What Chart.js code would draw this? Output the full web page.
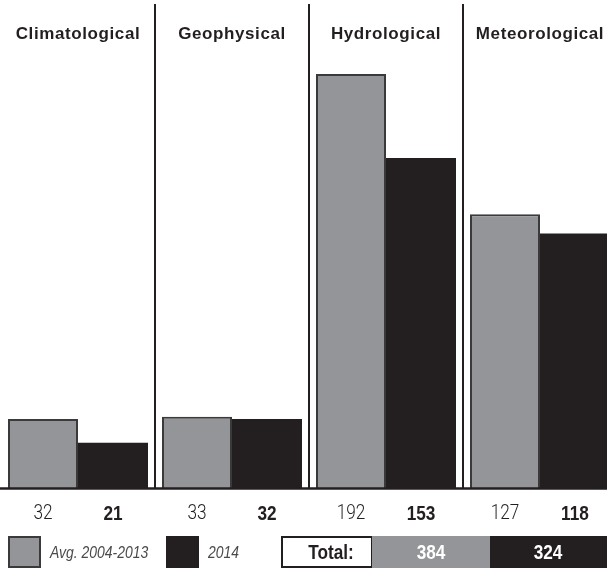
<!DOCTYPE html>
<html>
<head>
<meta charset="utf-8">
<script src="https://cdn.jsdelivr.net/npm/chart.js@4/dist/chart.umd.min.js"></script>
<style>
  html, body { margin: 0; padding: 0; background: #fff; overflow: hidden; }
  #wrap { width: 620px; height: 571px; }
</style>
</head>
<body>
<div id="wrap"><canvas id="c" width="620" height="571"></canvas></div>
<script>
// --- data ---
const categories = ["Climatological", "Geophysical", "Hydrological", "Meteorological"];
const seriesLabels = ["Avg. 2004-2013", "2014"];
const avgValues = [32, 33, 192, 127];
const values2014 = [21, 32, 153, 118];

const GREY = "#939598";
const BLACK = "#231f20";
const SANS = "'Liberation Sans', Arial, sans-serif";
const LIGHT = "Roboto, 'Liberation Sans', Arial, sans-serif";
const SQUEEZE = 0.82; // the original uses a condensed face

const sum = (arr) => arr.reduce((a, b) => a + b, 0);

// fill text squeezed horizontally around its anchor
function fillNarrow(ctx, text, x, y, align) {
  ctx.save();
  ctx.translate(x, y);
  ctx.scale(SQUEEZE, 1);
  ctx.textAlign = align || "center";
  ctx.fillText(text, 0, 0);
  ctx.restore();
}

// draws titles, separators, baseline, value labels, legend and totals
const decorPlugin = {
  id: "decor",
  afterDraw(chart) {
    const ctx = chart.ctx;
    const x = chart.scales.x;
    const base = chart.chartArea.bottom;

    ctx.save();

    // vertical separators between categories
    ctx.strokeStyle = BLACK;
    ctx.lineWidth = 2;
    for (let i = 0; i < categories.length - 1; i++) {
      const px = (x.getPixelForValue(i) + x.getPixelForValue(i + 1)) / 2;
      ctx.beginPath();
      ctx.moveTo(px, 4);
      ctx.lineTo(px, base);
      ctx.stroke();
    }

    // baseline
    ctx.lineWidth = 2.5;
    ctx.beginPath();
    ctx.moveTo(0, base + 0.5);
    ctx.lineTo(chart.width, base + 0.5);
    ctx.stroke();

    // category titles
    ctx.fillStyle = BLACK;
    ctx.font = "bold 17px " + SANS;
    ctx.letterSpacing = "0.6px";
    ctx.textAlign = "center";
    ctx.textBaseline = "alphabetic";
    categories.forEach((cat, i) => {
      ctx.fillText(cat, x.getPixelForValue(i), 39);
    });
    ctx.letterSpacing = "0px";

    // value labels under each bar
    ctx.textBaseline = "middle";
    const metaAvg = chart.getDatasetMeta(0);
    const meta14 = chart.getDatasetMeta(1);
    ctx.font = "300 21px " + LIGHT;
    ctx.fillStyle = BLACK;
    avgValues.forEach((v, i) => {
      fillNarrow(ctx, String(v), metaAvg.data[i].x, 514);
    });
    ctx.font = "bold 21px " + SANS;
    values2014.forEach((v, i) => {
      fillNarrow(ctx, String(v), meta14.data[i].x, 514);
    });

    // legend
    const ly = 537, lh = 30, mid = ly + lh / 2 + 1;
    ctx.fillStyle = GREY;
    ctx.fillRect(9, ly, 31, lh);
    ctx.strokeStyle = "#3a3a3a";
    ctx.lineWidth = 2;
    ctx.strokeRect(9, ly, 31, lh);
    ctx.fillStyle = BLACK;
    ctx.fillRect(166, ly - 1, 33, lh + 2);

    ctx.font = "italic 17px " + SANS;
    ctx.fillStyle = "#4a4a4a";
    fillNarrow(ctx, seriesLabels[0], 50, mid, "left");
    fillNarrow(ctx, seriesLabels[1], 208, mid, "left");

    // totals box
    ctx.fillStyle = "#fff";
    ctx.fillRect(282, ly, 90, lh);
    ctx.strokeStyle = BLACK;
    ctx.strokeRect(282, ly, 90, lh);
    ctx.fillStyle = GREY;
    ctx.fillRect(372, ly - 1, 118, lh + 2);
    ctx.fillStyle = BLACK;
    ctx.fillRect(490, ly - 1, chart.width - 490, lh + 2);

    ctx.font = "bold 21px " + SANS;
    ctx.fillStyle = BLACK;
    fillNarrow(ctx, "Total:", 331, mid);
    ctx.fillStyle = "#fff";
    fillNarrow(ctx, String(sum(avgValues)), 431, mid);
    fillNarrow(ctx, String(sum(values2014)), 548, mid);

    ctx.restore();
  },
};

new Chart(document.getElementById("c"), {
  type: "bar",
  data: {
    labels: categories,
    datasets: [
      {
        label: seriesLabels[0],
        data: avgValues,
        backgroundColor: GREY,
        borderColor: "#3a3a3a",
        borderWidth: 2,
        borderSkipped: "bottom",
        barPercentage: 1,
        categoryPercentage: 140 / 154,
      },
      {
        label: seriesLabels[1],
        data: values2014,
        backgroundColor: BLACK,
        borderWidth: 0,
        barPercentage: 1,
        categoryPercentage: 140 / 154,
      },
    ],
  },
  options: {
    responsive: false,
    animation: false,
    devicePixelRatio: 1,
    layout: { padding: { left: 1, right: 3, top: 0, bottom: 83 } },
    plugins: {
      legend: { display: false },
      tooltip: { enabled: false },
    },
    scales: {
      x: { display: false },
      y: { display: false, min: 0, max: 226.3 },
    },
  },
  plugins: [decorPlugin],
});
</script>
</body>
</html>
